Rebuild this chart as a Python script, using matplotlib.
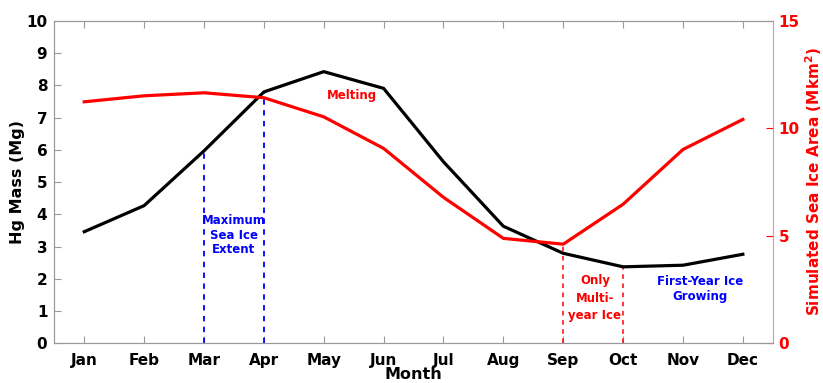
import numpy as np
import matplotlib.pyplot as plt

plt.rcParams['font.family'] = 'DejaVu Sans'
plt.rcParams['font.weight'] = 'bold'

months = ['Jan', 'Feb', 'Mar', 'Apr', 'May', 'Jun',
          'Jul', 'Aug', 'Sep', 'Oct', 'Nov', 'Dec']
hg_mass = [3.46, 4.27, 5.97, 7.80, 8.43, 7.91, 5.63, 3.63, 2.79, 2.37, 2.42, 2.76]
ice_area = [11.24, 11.52, 11.66, 11.43, 10.54, 9.07, 6.79, 4.88, 4.61, 6.47, 9.02, 10.42]

x = np.arange(1, 13)

fig = plt.figure(figsize=(8.23, 3.83), dpi=100)
ax = fig.add_axes([0.066, 0.104, 0.873, 0.841])
ax2 = ax.twinx()

ax.plot(x, hg_mass, color='k', lw=2.3, zorder=3)
ax2.plot(x, ice_area, color='r', lw=2.3, zorder=3)

# max sea ice extent (Mar-Apr)
for i in (2, 3):
    ax.plot([x[i], x[i]], [0, hg_mass[i]], color='b', ls='--', lw=1.3, dashes=(3, 3))
# minimum extent (Sep-Oct)
ax2.plot([x[8], x[8]], [0, ice_area[8]], color='r', ls='--', lw=1.1, dashes=(3, 3))
ax.plot([x[9], x[9]], [0, hg_mass[9]], color='r', ls='--', lw=1.1, dashes=(3, 3))

ax.text(5.47, 7.7, 'Melting', color='r', fontsize=8.5, ha='center', va='center')
ax.text(3.5, 3.35, 'Maximum\nSea Ice\nExtent', color='b', fontsize=8.5,
        ha='center', va='center', linespacing=1.15)
ax.text(9.53, 1.4, 'Only\nMulti-\nyear Ice', color='r', fontsize=8.5,
        ha='center', va='center', linespacing=1.45)
ax.text(11.28, 1.68, 'First-Year Ice\nGrowing', color='b', fontsize=8.5,
        ha='center', va='center', linespacing=1.15)

ax.set_xlim(0.5, 12.5)
ax.set_ylim(0, 10)
ax2.set_ylim(0, 15)
ax.set_xticks(x)
ax.set_xticklabels(months)
ax.set_yticks(range(0, 11))
ax2.set_yticks([0, 5, 10, 15])

ax.tick_params(axis='both', direction='in', labelsize=11, length=5,
               color='#999999', top=True, right=False, pad=7)
ax.tick_params(axis='y', pad=5)
ax2.tick_params(axis='y', direction='in', labelsize=11, length=5,
                color='r', labelcolor='r', pad=4)

for s in ('left', 'top', 'bottom'):
    ax.spines[s].set_color('#999999')
    ax2.spines[s].set_color('#999999')
ax2.spines['right'].set_color('#ff8888')
ax.spines['right'].set_visible(False)

ax.set_xlabel('Month', fontsize=11.5, fontweight='bold', labelpad=-1)
ax.set_ylabel('Hg Mass (Mg)', fontsize=11.5, fontweight='bold', labelpad=1)
ax2.set_ylabel('Simulated Sea Ice Area (Mkm$^\\mathbf{2}$)', fontsize=11,
               fontweight='bold', color='r', labelpad=3)

fig.savefig('out.png', dpi=100)
